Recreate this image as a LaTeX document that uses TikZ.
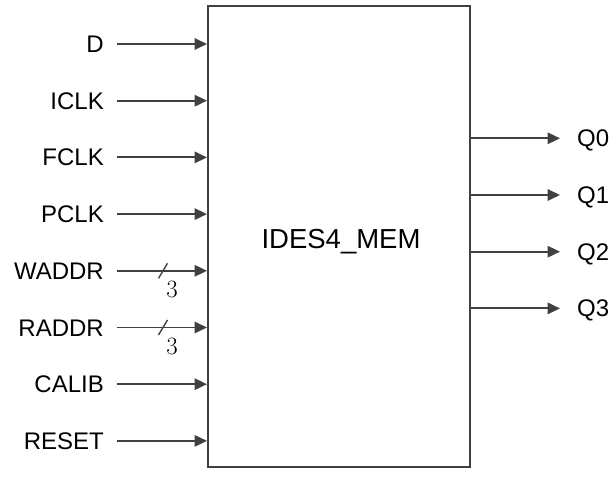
\documentclass[tikz,border=0pt]{standalone}
\usepackage{fontspec}
\setmainfont{Liberation Sans}
\usepackage{tikz}
\usetikzlibrary{arrows.meta}
\definecolor{wire}{HTML}{404040}

\tikzset{
	lbl/.style={inner sep=0pt,text height=17pt,text depth=0pt,font=\fontsize{24}{28}\selectfont},
	sig/.style={draw=wire,line width=1.8pt,-{Triangle[length=12.5pt,width=11.5pt]}},
}

\begin{document}
\begin{tikzpicture}[x=1pt,y=-1pt]
	\useasboundingbox (0,0) rectangle (613,478);
	% block
	\node (mem) [draw=wire,line width=2pt,minimum width=262pt,minimum height=461pt,inner sep=0pt] at (339,236.5) {};
	\node (title) [inner sep=0pt,font=\fontsize{27.5}{32}\selectfont] at ([shift={(2,5)}]mem.center) {IDES4\_MEM};
	% inputs
	\node (d) [lbl,anchor=east] at (104,44) {D};
	\node (iclk) [lbl,anchor=east] at (104,100.7) {ICLK};
	\node (fclk) [lbl,anchor=east] at (104,157.4) {FCLK};
	\node (pclk) [lbl,anchor=east] at (104,214.1) {PCLK};
	\node (waddr) [lbl,anchor=east] at (104,270.8) {WADDR};
	\node (raddr) [lbl,anchor=east] at (104,327.5) {RADDR};
	\node (calib) [lbl,anchor=east] at (104,384.2) {CALIB};
	\node (reset) [lbl,anchor=east] at (104,440.9) {RESET};
	\draw [sig] ([xshift=13pt]d.east) -- (d.east -| mem.west);
	\draw [sig] ([xshift=13pt]iclk.east) -- (iclk.east -| mem.west);
	\draw [sig] ([xshift=13pt]fclk.east) -- (fclk.east -| mem.west);
	\draw [sig] ([xshift=13pt]pclk.east) -- (pclk.east -| mem.west);
	\draw [sig] ([xshift=13pt]waddr.east) -- (waddr.east -| mem.west);
	\draw [sig] ([xshift=13pt]raddr.east) -- (raddr.east -| mem.west);
	\draw [sig] ([xshift=13pt]calib.east) -- (calib.east -| mem.west);
	\draw [sig] ([xshift=13pt]reset.east) -- (reset.east -| mem.west);
	% bus width marks
	\coordinate (wbus) at ([xshift=59pt]waddr.east);
	\coordinate (rbus) at ([xshift=59pt]raddr.east);
	\draw [wire,line width=1.4pt] ([shift={(-4.5,7.5)}]wbus) -- ([shift={(4.5,-7.5)}]wbus);
	\draw [wire,line width=1.4pt] ([shift={(-4.5,7.5)}]rbus) -- ([shift={(4.5,-7.5)}]rbus);
	\node (wbits) [inner sep=0pt,font=\fontsize{25}{29}\selectfont] at ([shift={(9,19)}]wbus) {$3$};
	\node (rbits) [inner sep=0pt,font=\fontsize{25}{29}\selectfont] at ([shift={(9,19)}]rbus) {$3$};
	% outputs
	\node (q0) [lbl,anchor=west] at (577,138.3) {Q0};
	\node (q1) [lbl,anchor=west] at (577,195) {Q1};
	\node (q2) [lbl,anchor=west] at (577,251.7) {Q2};
	\node (q3) [lbl,anchor=west] at (577,308.4) {Q3};
	\draw [sig] (q0.west -| mem.east) -- ([xshift=-17pt]q0.west);
	\draw [sig] (q1.west -| mem.east) -- ([xshift=-17pt]q1.west);
	\draw [sig] (q2.west -| mem.east) -- ([xshift=-17pt]q2.west);
	\draw [sig] (q3.west -| mem.east) -- ([xshift=-17pt]q3.west);
\end{tikzpicture}
\end{document}
